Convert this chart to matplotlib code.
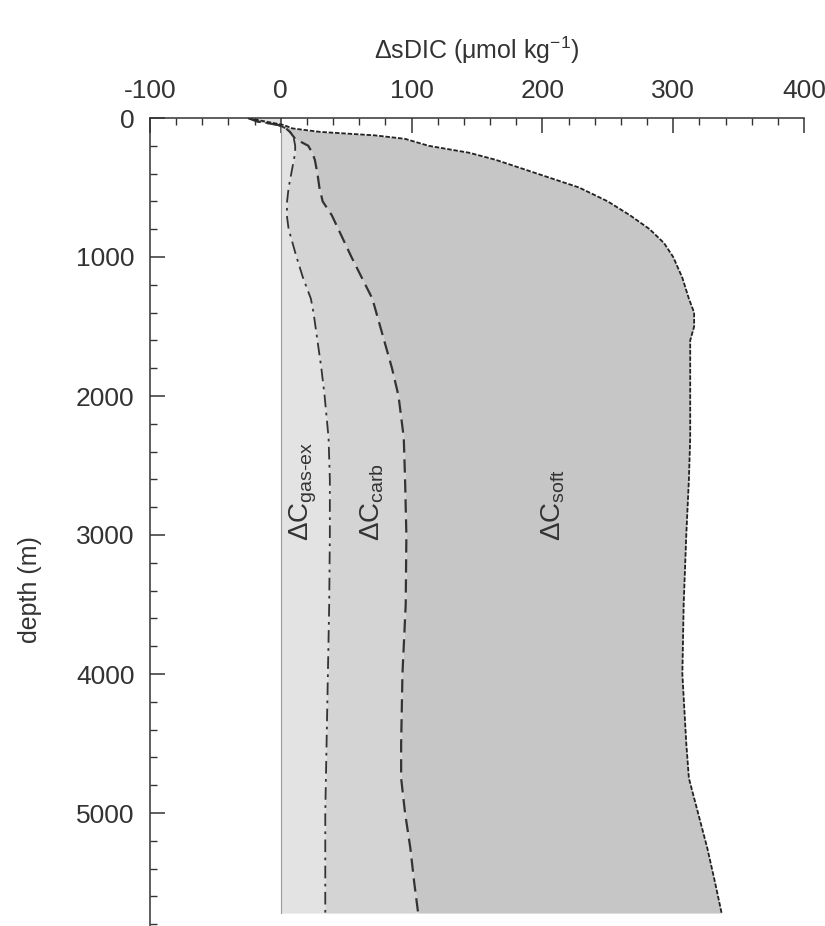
import numpy as np
import matplotlib
matplotlib.use("Agg")
import matplotlib.pyplot as plt
from matplotlib.ticker import MultipleLocator

plt.rcParams['font.family'] = ['Liberation Sans', 'DejaVu Sans']
plt.rcParams['mathtext.fontset'] = 'custom'
plt.rcParams['mathtext.rm'] = 'Liberation Sans'
plt.rcParams['mathtext.it'] = 'Liberation Sans'
plt.rcParams['axes.unicode_minus'] = False

# depth grid (m)
depth = [0, 25, 50, 75, 100, 125, 150, 200, 250, 300, 400, 500, 600, 700, 800,
         900, 1000, 1150, 1300, 1400, 1500, 1600, 1800, 2000, 2300, 2600, 3000,
         3500, 4000, 4500, 4750, 5000, 5250, 5500, 5720]

# components of delta sDIC (umol/kg)
dc_gasex = [-25, -18, -2, 4, 7, 9, 10, 11, 11, 10, 8, 6, 4.8, 4.6, 6,
            9, 12, 17, 23, 25, 26.5, 28, 31, 33.5, 36.5, 37.5, 37.5,
            37, 36, 35, 34.5, 34, 34, 34, 34]
dc_carb = [0, 0, 0, 0, 0, 0, 1, 10, 13, 16, 20, 23.5, 27.2, 34.4, 38,
           40, 42, 45, 47, 48, 49.5, 51, 54, 56.5, 57.5, 57.5, 58.5,
           58.5, 57, 57, 57.5, 61, 65, 68, 71]
dc_soft = [0, 6, 4, 5, 23, 63, 84, 92, 120, 138, 168, 198.5, 218, 228, 238,
           244, 246, 245, 242, 243, 240, 234, 228, 223, 219, 217, 214,
           212.5, 214, 218, 220, 224, 227, 230, 232]

depth = np.array(depth)
c1 = np.array(dc_gasex)
c2 = c1 + np.array(dc_carb)
c3 = c2 + np.array(dc_soft)

fig = plt.figure(figsize=(8.25, 9.26), dpi=100)
ax = fig.add_axes([150 / 825, 0, 654 / 825, 1 - 118 / 926])

ax.fill_betweenx(depth, 0, c1, color='#e3e3e3', lw=0)
ax.fill_betweenx(depth, c1, c2, color='#d4d4d4', lw=0)
ax.fill_betweenx(depth, c2, c3, color='#c6c6c6', lw=0)
ax.plot([0, 0], [60, depth[-1]], color='#9a9a9a', lw=0.8)

ax.plot(c1, depth, color='#333333', lw=1.3, ls=(0, (7, 3, 1.5, 3)))
ax.plot(c2, depth, color='#333333', lw=1.6, ls=(0, (6, 3)))
ax.plot(c3, depth, color='#222222', lw=1.3, ls=(0, (2.5, 1)))

# labels inside the areas
lab_kw = dict(rotation=90, ha='center', va='bottom', fontsize=20, color='#333333')
ax.text(17, 3040, r'$\Delta$C$_{\mathrm{gas}\text{-}\mathrm{ex}}$', **lab_kw)
ax.text(70, 3040, r'$\Delta$C$_{\mathrm{carb}}$', **lab_kw)
ax.text(208, 3040, r'$\Delta$C$_{\mathrm{soft}}$', **lab_kw)

ax.set_xlim(-100, 400)
ax.set_ylim((926 - 118) / 0.139, 0)
ax.xaxis.set_ticks_position('top')
ax.xaxis.set_label_position('top')
ax.set_xticks([-100, 0, 100, 200, 300, 400])
ax.set_yticks([0, 1000, 2000, 3000, 4000, 5000])
ax.xaxis.set_minor_locator(MultipleLocator(20))
ax.yaxis.set_minor_locator(MultipleLocator(200))
ax.tick_params(which='major', direction='in', length=11, width=1.1,
               labelsize=19, pad=11, colors='#333333')
ax.tick_params(which='minor', direction='in', length=5, width=1.0, colors='#333333')
for s in ['right', 'bottom']:
    ax.spines[s].set_visible(False)
for s in ['left', 'top']:
    ax.spines[s].set_linewidth(1.1)
    ax.spines[s].set_color('#333333')

ax.set_xlabel(r'$\Delta$sDIC ($\mu$mol kg$^{-1}$)', fontsize=18, labelpad=14,
              color='#333333')
fig.text(30 / 825, 1 - 590 / 926, 'depth (m)', rotation=90, ha='center',
         va='center', fontsize=18, color='#333333')

fig.savefig('out.png', dpi=100)
